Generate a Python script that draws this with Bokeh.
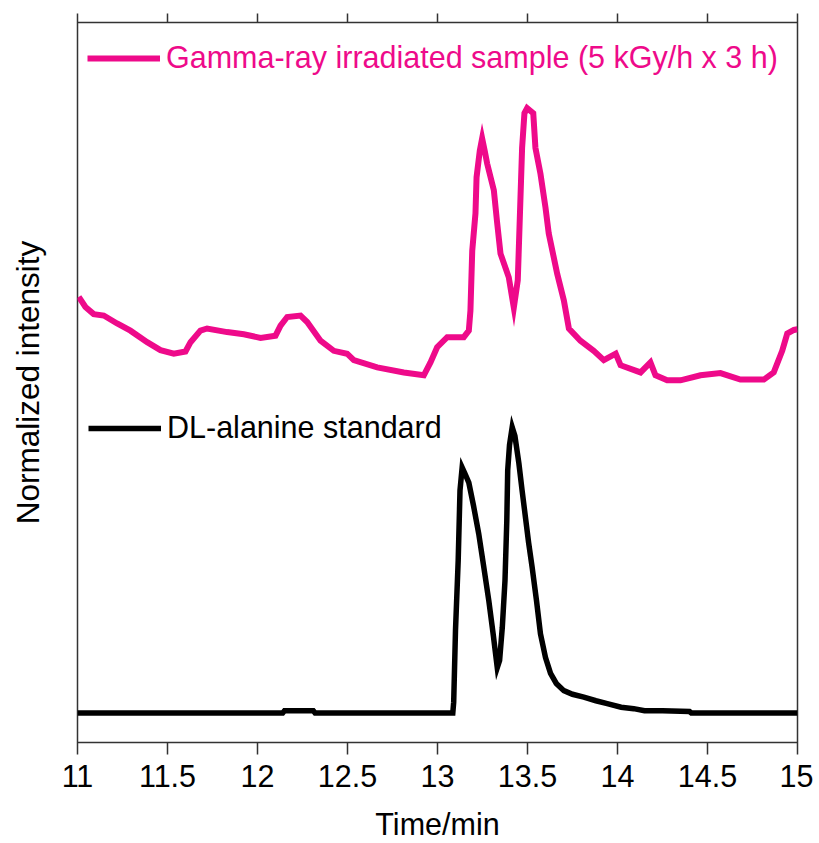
from bokeh.plotting import figure
from bokeh.models import Range1d, LinearAxis, FixedTicker, Legend, LegendItem
from bokeh.embed import file_html
from bokeh.resources import INLINE

# ---- data ----
x_ticks = [11, 11.5, 12, 12.5, 13, 13.5, 14, 14.5, 15]
tick_labels = ["11", "11.5", "12", "12.5", "13", "13.5", "14", "14.5", "15"]

gamma_time = [11.007, 11.044, 11.09, 11.146, 11.22, 11.294, 11.387, 11.461, 11.535, 11.60,
              11.628, 11.683, 11.72, 11.831, 11.924, 12.017, 12.10, 12.128, 12.165, 12.239,
              12.276, 12.35, 12.424, 12.498, 12.535, 12.665, 12.813, 12.924, 12.961, 12.998,
              13.054, 13.146, 13.174, 13.183, 13.193, 13.211, 13.217, 13.235, 13.248, 13.262,
              13.276, 13.313, 13.33, 13.35, 13.396, 13.424, 13.446, 13.452, 13.461, 13.47,
              13.483, 13.498, 13.532, 13.544, 13.572, 13.60, 13.618, 13.665, 13.702, 13.73,
              13.794, 13.868, 13.924, 13.99, 14.017, 14.128, 14.183, 14.211, 14.276, 14.35,
              14.461, 14.572, 14.683, 14.813, 14.868, 14.915, 14.943, 14.98, 15.0]
gamma_intensity = [61.9, 60.5, 59.5, 59.3, 58.2, 57.2, 55.6, 54.5, 54.0, 54.3,
                   55.6, 57.2, 57.5, 57.0, 56.7, 56.2, 56.5, 57.9, 59.1, 59.3,
                   58.4, 55.8, 54.4, 54.0, 53.1, 52.1, 51.4, 51.0, 52.8, 54.9,
                   56.3, 56.3, 57.2, 60.0, 68.3, 73.5, 78.5, 82.2, 83.9, 82.2,
                   80.4, 76.7, 72.5, 67.9, 64.6, 60.4, 64.2, 68.8, 75.7, 82.6,
                   87.4, 88.1, 87.4, 82.6, 79.0, 74.3, 70.7, 65.1, 61.4, 57.5,
                   55.8, 54.4, 53.1, 54.0, 52.4, 51.4, 52.8, 51.0, 50.3, 50.3,
                   51.0, 51.3, 50.4, 50.4, 51.4, 54.4, 56.8, 57.3, 57.4]

std_time = [11.0, 12.14, 12.15, 12.31, 12.32, 13.085, 13.09, 13.10, 13.115, 13.125,
            13.137, 13.15, 13.174, 13.20, 13.229, 13.257, 13.285, 13.31, 13.332, 13.345,
            13.36, 13.375, 13.385, 13.39, 13.40, 13.415, 13.43, 13.452, 13.47, 13.489,
            13.506, 13.526, 13.55, 13.572, 13.60, 13.628, 13.66, 13.702, 13.75, 13.813,
            13.88, 13.943, 14.02, 14.09, 14.15, 14.25, 14.40, 14.41, 15.0]
std_intensity = [4.1, 4.1, 4.4, 4.4, 4.1, 4.1, 5.6, 15.6, 25.3, 35.0,
                 38.2, 37.5, 36.1, 32.9, 29.0, 24.4, 19.7, 14.9, 10.4, 11.4,
                 16.0, 22.5, 30.8, 37.8, 41.3, 43.8, 42.6, 38.8, 35.0, 31.2,
                 27.8, 24.3, 19.7, 15.1, 11.8, 9.6, 8.2, 7.2, 6.7, 6.3,
                 5.8, 5.4, 4.9, 4.7, 4.4, 4.4, 4.3, 4.1, 4.1]

gamma_label = "Gamma-ray irradiated sample (5 kGy/h x 3 h)"
std_label = "DL-alanine standard"

# ---- style ----
PINK = "#EE0A8A"
FONT = "Liberation Sans"
FS = "30.5px"
AXIS_COLOR = "#333333"

p = figure(frame_width=720, frame_height=720,
           x_range=Range1d(11, 15), y_range=Range1d(0, 100),
           output_backend="svg", toolbar_location=None,
           min_border_left=77, min_border_top=22, min_border_right=16, min_border_bottom=10,
           background_fill_color="white", border_fill_color="white")
p.grid.visible = False
p.outline_line_color = AXIS_COLOR
p.outline_line_width = 1.5

# bottom axis
xa = p.xaxis[0]
xa.ticker = FixedTicker(ticks=x_ticks)
xa.major_label_overrides = {t: l for t, l in zip(x_ticks, tick_labels)}
xa.axis_line_color = None
xa.major_tick_line_color = AXIS_COLOR
xa.major_tick_line_width = 1.5
xa.major_tick_out = 12
xa.major_tick_in = 0
xa.minor_tick_line_color = None
xa.major_label_text_font = FONT
xa.major_label_text_font_size = FS
xa.major_label_text_color = "black"
xa.major_label_standoff = 10
xa.axis_label = "Time/min"
xa.axis_label_text_font = FONT
xa.axis_label_text_font_size = FS
xa.axis_label_text_font_style = "normal"
xa.axis_label_text_color = "black"
xa.axis_label_standoff = 17

# left axis: label only
ya = p.yaxis[0]
ya.ticker = FixedTicker(ticks=[])
ya.axis_line_color = None
ya.major_tick_line_color = None
ya.minor_tick_line_color = None
ya.major_tick_out = 0
ya.major_label_standoff = 0
ya.major_label_text_color = None
ya.axis_label = "Normalized intensity"
ya.axis_label_text_font = FONT
ya.axis_label_text_font_size = "31.5px"
ya.axis_label_text_font_style = "normal"
ya.axis_label_text_color = "black"
ya.axis_label_standoff = 32

# top axis: ticks only
top = LinearAxis(ticker=FixedTicker(ticks=x_ticks))
top.axis_line_color = None
top.major_tick_line_color = AXIS_COLOR
top.major_tick_line_width = 1.5
top.major_tick_out = 9
top.major_tick_in = 0
top.minor_tick_line_color = None
top.major_label_text_font_size = "1px"
top.major_label_text_color = None
top.major_label_text_alpha = 0
top.major_label_standoff = 0
p.add_layout(top, "above")

# curves
r_gamma = p.line(gamma_time, gamma_intensity, line_color=PINK, line_width=6, line_join="miter")
r_std = p.line(std_time, std_intensity, line_color="black", line_width=5.5, line_join="miter")

def make_legend(label, renderer, color, loc):
    lg = Legend(items=[LegendItem(label=label, renderers=[renderer])], location=loc,
                padding=0, margin=0, spacing=0, glyph_width=73, glyph_height=30,
                label_height=30, label_standoff=6,
                label_text_font=FONT, label_text_font_size=FS, label_text_color=color,
                border_line_alpha=0, background_fill_alpha=0)
    return lg

p.add_layout(make_legend(gamma_label, r_gamma, PINK, (10, 667)))
p.add_layout(make_legend(std_label, r_std, "black", (11, 297)))

open("out.html", "w").write(file_html(p, INLINE))
